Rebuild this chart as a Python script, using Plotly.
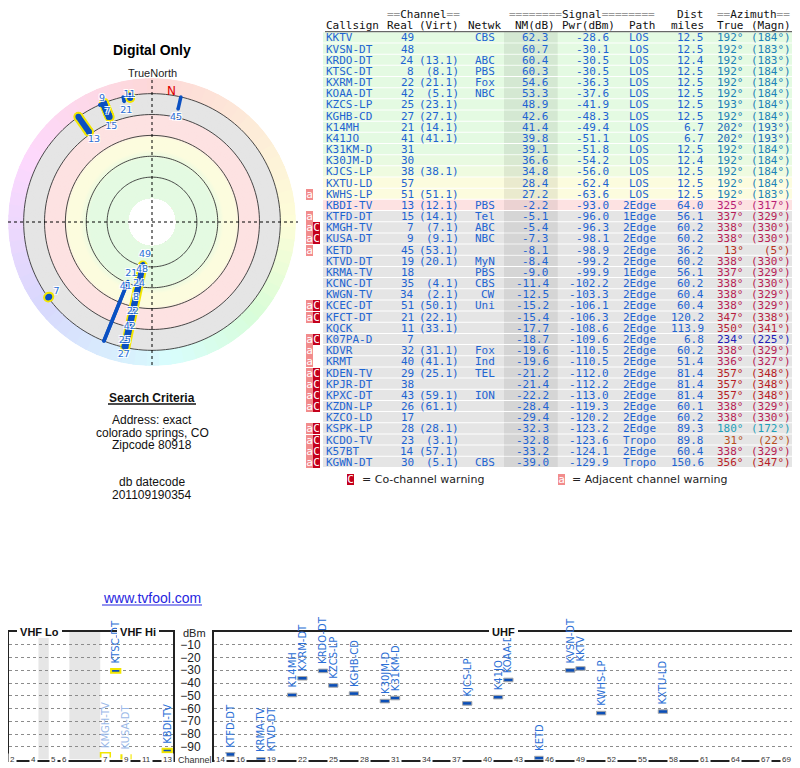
import numpy as np
import plotly.graph_objects as go

W, H = 800, 768
OFF = 8  # the page shows the figure 8 px in from the top-left corner
SANS = "Liberation Sans, Arial, sans-serif"
MONO = "DejaVu Sans Mono, monospace"
VERA = "DejaVu Sans, Verdana, sans-serif"

# ---- station list (table order) ----
callsigns = ["KKTV", "KVSN-DT", "KRDO-DT", "KTSC-DT", "KXRM-DT", "KOAA-DT", "KZCS-LP",
             "KGHB-CD", "K14MH", "K41JO", "K31KM-D", "K30JM-D", "KJCS-LP", "KXTU-LD",
             "KWHS-LP", "KBDI-TV", "KTFD-DT", "KMGH-TV", "KUSA-DT", "KETD", "KTVD-DT",
             "KRMA-TV", "KCNC-DT", "KWGN-TV", "KCEC-DT", "KFCT-DT", "KQCK", "K07PA-D",
             "KDVR", "KRMT", "KDEN-TV", "KPJR-DT", "KPXC-DT", "KZDN-LP", "KZCO-LD",
             "KSPK-LP", "KCDO-TV", "K57BT", "KGWN-DT"]
real_ch = [49, 48, 24, 8, 22, 42, 25, 27, 21, 41, 31, 30, 38, 57, 51, 13, 15, 7, 9, 45,
           19, 18, 35, 34, 51, 21, 11, 7, 32, 40, 29, 38, 43, 26, 17, 28, 23, 14, 30]
virt_ch = ["", "", "13.1", "8.1", "21.1", "5.1", "23.1", "27.1", "14.1", "41.1",
           "", "", "38.1", "", "51.1", "12.1", "14.1", "7.1", "9.1", "53.1",
           "20.1", "", "4.1", "2.1", "50.1", "22.1", "33.1", "", "31.1", "41.1",
           "25.1", "", "59.1", "61.1", "", "28.1", "3.1", "57.1", "5.1"]
networks = ["CBS", "", "ABC", "PBS", "Fox", "NBC", "", "", "", "",
            "", "", "", "", "", "PBS", "Tel", "ABC", "NBC", "",
            "MyN", "PBS", "CBS", "CW", "Uni", "", "", "", "Fox", "Ind",
            "TEL", "", "ION", "", "", "", "", "", "CBS"]
nm_db = [62.3, 60.7, 60.4, 60.3, 54.6, 53.3, 48.9, 42.6, 41.4, 39.8,
         39.1, 36.6, 34.8, 28.4, 27.2, -2.2, -5.1, -5.4, -7.3, -8.1,
         -8.4, -9.0, -11.4, -12.5, -15.2, -15.4, -17.7, -18.7, -19.6, -19.6,
         -21.2, -21.4, -22.2, -28.4, -29.4, -32.3, -32.8, -33.2, -39.0]
pwr_dbm = [-28.6, -30.1, -30.5, -30.5, -36.3, -37.6, -41.9, -48.3, -49.4, -51.1,
           -51.8, -54.2, -56.0, -62.4, -63.6, -93.0, -96.0, -96.3, -98.1, -98.9,
           -99.2, -99.9, -102.2, -103.3, -106.1, -106.3, -108.6, -109.6, -110.5, -110.5,
           -112.0, -112.2, -113.0, -119.3, -120.2, -123.2, -123.6, -124.1, -129.9]
paths = (["LOS"] * 15
         + ["2Edge", "1Edge", "2Edge", "2Edge", "2Edge"]
         + ["2Edge", "1Edge", "2Edge", "2Edge", "2Edge", "2Edge", "2Edge", "2Edge", "2Edge", "2Edge"]
         + ["2Edge"] * 6 + ["Tropo", "2Edge", "Tropo"])
dist_mi = [12.5, 12.5, 12.4, 12.5, 12.5, 12.5, 12.5, 12.5, 6.7, 6.7,
           12.5, 12.4, 12.5, 12.5, 12.5, 64.0, 56.1, 60.2, 60.2, 36.2,
           60.2, 56.1, 60.2, 60.4, 60.4, 120.2, 113.9, 6.8, 60.2, 51.4,
           81.4, 81.4, 81.4, 60.1, 60.2, 89.3, 89.8, 60.4, 150.6]
az_true = [192, 192, 192, 192, 192, 192, 193, 192, 202, 202,
           192, 192, 192, 192, 192, 325, 337, 338, 338, 13,
           338, 337, 338, 338, 338, 347, 350, 234, 338, 336,
           357, 357, 357, 338, 338, 180, 31, 338, 356]
az_magn = [184, 183, 183, 184, 184, 184, 184, 184, 193, 193,
           184, 184, 184, 184, 183, 317, 329, 330, 330, 5,
           330, 329, 330, 329, 329, 338, 341, 225, 329, 327,
           348, 348, 348, 329, 330, 172, 22, 329, 347]
warnings = ["", "", "", "", "", "", "", "", "", "", "", "", "", "", "a",
            "", "a", "aC", "aC", "a", "", "", "", "", "aC", "aC", "", "aC", "a", "a",
            "aC", "aC", "aC", "aC", "", "aC", "aC", "aC", "aC"]

# ---- axis tick labels ----
vhf_ruler = [2, 4, 5, 6, 7, 9, 11, 13]
uhf_ruler = [14, 16, 19, 22, 25, 28, 31, 34, 37, 40, 43, 46, 49, 52, 55, 58, 61, 64, 67, 69]
dbm_ticks = [-10, -20, -30, -40, -50, -60, -70, -80, -90]
polar_rings = [60, 40, 20, 0, -20]

FLOOR = -20          # NM level of the outer gray ring
NM_IN, NM_OUT = 80, -35
n = len(callsigns)


def px(x):
    return min(1.0, max(0.0, (x - OFF) / W))


def py(y):
    return min(1.0, max(0.0, 1 - (y - OFF) / H))


GREEN = (228, 250, 226)
YELLOW = (252, 252, 222)
PINK = (253, 226, 226)
GRAY = (229, 229, 229)
table_anchors = [(-60, GRAY), (-3.0, GRAY), (-2.4, PINK), (19, PINK), (21, YELLOW),
                 (31, YELLOW), (38, GREEN), (99, GREEN)]
polar_anchors = [(-60, GRAY), (-0.5, GRAY), (0.5, PINK), (19, PINK), (22, YELLOW),
                 (34, YELLOW), (43, GREEN), (99, GREEN)]


def blend(anchors, v, k=1.0):
    xs = [a[0] for a in anchors]
    cs = np.array([a[1] for a in anchors], float)
    rgb = [np.interp(v, xs, cs[:, j]) * k for j in range(3)]
    return "rgb(%d,%d,%d)" % tuple(int(round(c)) for c in rgb)


def az_hue(a):
    return float(np.interp(a % 360, [0, 90, 180, 270, 360], [0, 60, 190, 275, 360]))


def vhf_slot(ch):
    if ch <= 4:
        return ch - 2
    if ch <= 6:
        return ch - 1
    return ch + 2


annotations = []
shapes = []


def ann(x, y, text, size=11, color="#111", family=SANS, xanchor="center", yanchor="middle", **kw):
    d = dict(x=(x - OFF) / W, y=1 - (y - OFF) / H, xref="paper", yref="paper", text=text,
             showarrow=False, xanchor=xanchor, yanchor=yanchor, borderpad=0, borderwidth=0,
             font=dict(size=size, color=color, family=family))
    d.update(kw)
    annotations.append(d)


def rect(x0, y0, x1, y1, color, layer="below"):
    shapes.append(dict(type="rect", xref="paper", yref="paper", x0=px(x0), x1=px(x1),
                       y0=py(y1), y1=py(y0), fillcolor=color, line=dict(width=0), layer=layer))


def hline(x0, x1, y, color="#333", width=1, dash="solid", layer="above"):
    shapes.append(dict(type="line", xref="paper", yref="paper", x0=px(x0), x1=px(x1),
                       y0=py(y), y1=py(y), line=dict(color=color, width=width, dash=dash), layer=layer))


def vline(x, y0, y1, color="#333", width=1, dash="solid", layer="above"):
    shapes.append(dict(type="line", xref="paper", yref="paper", x0=px(x), x1=px(x),
                       y0=py(y0), y1=py(y1), line=dict(color=color, width=width, dash=dash), layer=layer))


fig = go.Figure()

# ================= table =================
BLUE_TXT = "#1e64d2"
G = '<span style="color:#9a9a9a">%s</span>'
ann(423, 14.5, G % "==" + "Channel" + G % "==", family=MONO)
ann(581.5, 14.5, G % "========" + "Signal" + G % "========", family=MONO)
ann(703.5, 14.5, "Dist", family=MONO, xanchor="right")
ann(753.5, 14.5, G % "==" + "Azimuth" + G % "==", family=MONO)
for txt, x, xa in [("Callsign", 326, "left"), ("Real", 413.5, "right"), ("(Virt)", 459.5, "right"),
                   ("Netwk", 501, "right"), ("NM(dB)", 535, "center"), ("Pwr(dBm)", 588.5, "center"),
                   ("Path", 642, "center"), ("miles", 703.5, "right"), ("True", 743.5, "right"),
                   ("(Magn)", 790.5, "right")]:
    ann(x, 25.5, txt, family=MONO, xanchor=xa)
hline(325, 792.7, 31.7, color="#444", width=1)

ROW0, PITCH = 37.9, 11.17
az_col = ["hsl(%d,72%%,42%%)" % az_hue(a) for a in az_true]
columns = [
    (callsigns, 326, "left"),
    ([str(c) for c in real_ch], 413.5, "right"),
    (["(%s)" % v if v else "" for v in virt_ch], 459.5, "right"),
    (networks, 494.5, "right"),
    (["%.1f" % v for v in nm_db], 548.5, "right"),
    (["%.1f" % v for v in pwr_dbm], 608.5, "right"),
    (paths, 639, "center"),
    (["%.1f" % v for v in dist_mi], 703.5, "right"),
    (["%d°" % a for a in az_true], 743.5, "right"),
    (["(%d°)" % a for a in az_magn], 790.5, "right"),
]
for i in range(n):
    yc = ROW0 + i * PITCH
    top = yc - PITCH / 2
    bot = top + PITCH - 1
    rect(323, top, 792.7, bot, blend(table_anchors, nm_db[i]))
    rect(504, top, 557.7, bot, blend(table_anchors, nm_db[i], 0.93))
    for ci, (vals, x, xa) in enumerate(columns):
        if not vals[i]:
            continue
        col = az_col[i] if ci >= 8 else BLUE_TXT
        ann(x, yc, vals[i], family=MONO, xanchor=xa, color=col)
    if "a" in warnings[i]:
        ann(309.6, yc, "a", family=MONO, color="white", bgcolor="#f28c8c", width=7, height=11)
    if "C" in warnings[i]:
        ann(316.7, yc, "C", family=MONO, color="white", bgcolor="#c4001c", width=7, height=11)

ann(350, 479, "C", family=MONO, color="white", bgcolor="#c4001c", width=7, height=11)
ann(361.5, 479, "= Co-channel warning", family=VERA, xanchor="left", color="#222")
ann(561, 479, "a", family=MONO, color="white", bgcolor="#f28c8c", width=7, height=11)
ann(571.5, 479, "= Adjacent channel warning", family=VERA, xanchor="left", color="#222")

# ================= polar radar =================
CX, CY, RPX = 152, 222, 144.0
HOLE_PX = 24
polar_domain = dict(x=[px(CX - RPX), px(CX + RPX)], y=[py(CY + RPX), py(CY - RPX)])

levels = np.arange(FLOOR, NM_IN, 1.0)
b_th, b_base, b_r, b_col = [], [], [], []
for L in levels:
    c = blend(polar_anchors, L + 0.5)
    for th in (90, 270):
        b_th.append(th)
        b_base.append(L)
        b_r.append(NM_IN - L)
        b_col.append(c)
fig.add_trace(go.Barpolar(theta=b_th, base=b_base, r=b_r, width=[180] * len(b_th),
                          marker=dict(color=b_col, line=dict(width=0)), hoverinfo="skip"))

ring_th = list(range(0, 360, 5))
fig.add_trace(go.Barpolar(theta=ring_th, base=[NM_OUT] * len(ring_th),
                          r=[FLOOR - NM_OUT] * len(ring_th), width=[5.8] * len(ring_th),
                          marker=dict(color=["hsl(%d,90%%,92%%)" % az_hue(a) for a in ring_th],
                                      line=dict(width=0)),
                          hoverinfo="skip"))

circ_r, circ_t = [], []
for lv in polar_rings:
    t = list(np.linspace(0, 360, 181))
    circ_r += [lv] * len(t) + [None]
    circ_t += t + [None]
fig.add_trace(go.Scatterpolar(r=circ_r, theta=circ_t, mode="lines",
                              line=dict(color="#333", width=0.9), hoverinfo="skip"))

drawn = [i for i in range(n) if nm_db[i] >= FLOOR]
vhf_drawn = [i for i in drawn if real_ch[i] <= 13]
uhf_drawn = [i for i in drawn if real_ch[i] > 13]


def segs(idx):
    r, t = [], []
    for i in idx:
        r += [nm_db[i], FLOOR, None]
        t += [az_true[i], az_true[i], None]
    return r, t


LINE_BLUE = "#0b50c2"
for idx, color, wdt in [(vhf_drawn, "#f2e600", 10), (vhf_drawn, LINE_BLUE, 6), (uhf_drawn, LINE_BLUE, 3.5)]:
    r, t = segs(idx)
    fig.add_trace(go.Scatterpolar(r=r, theta=t, mode="lines+markers",
                                  line=dict(color=color, width=wdt),
                                  marker=dict(color=color, size=wdt, line=dict(width=0)),
                                  hoverinfo="skip"))

# labels spread outward along each direction
by_az = sorted(drawn, key=lambda i: az_true[i])
groups, cur = [], [by_az[0]]
for i in by_az[1:]:
    if az_true[i] - az_true[cur[-1]] <= 3:
        cur.append(i)
    else:
        groups.append(cur)
        cur = [i]
groups.append(cur)
LABEL_IN, LABEL_GAP = 8.5, 14.0
lab_r, lab_t, lab_s = [], [], []
for grp in groups:
    prev = None
    for i in sorted(grp, key=lambda k: -nm_db[k]):
        v = nm_db[i] + LABEL_IN
        if prev is not None:
            v = min(v, prev - LABEL_GAP)
        prev = v
        if v >= -33:
            lab_r.append(v)
            lab_t.append(az_true[i])
            lab_s.append(str(real_ch[i]))
fig.add_trace(go.Scatterpolar(r=lab_r, theta=lab_t, text=lab_s, mode="text",
                              textfont=dict(family=VERA, size=9.5, color="#2a6fd8",
                                            shadow="1px 1px 0 #fff, -1px -1px 0 #fff, 1px -1px 0 #fff, -1px 1px 0 #fff"),
                              hoverinfo="skip"))

declination = float(np.mean([(t - m) % 360 for t, m in zip(az_true, az_magn)]))
fig.add_trace(go.Scatterpolar(r=[-22.5], theta=[declination], text=["N"], mode="text",
                              textfont=dict(family=VERA, size=12, color="#e00000"),
                              hoverinfo="skip"))

hline(CX - RPX - 2, CX + RPX + 2, CY, color="#000", width=1, dash="dot")
vline(CX, 80, CY + RPX + 2, color="#000", width=1, dash="dot")

ann(CX, 50.5, "<b>Digital Only</b>", size=14, color="#000")
ann(CX, 73, "TrueNorth", size=11, color="#222")

# ================= left text block =================
ann(CX, 397.7, "<b>Search Criteria</b>", size=12, color="#111")
hline(108, 196, 404, color="#111", width=1.5)
ann(CX, 420, "Address: exact", size=12, color="#111")
ann(CX, 432.7, "colorado springs, CO", size=12, color="#111")
ann(CX, 445, "Zipcode 80918", size=12, color="#111")
ann(CX, 482.3, "db datecode", size=12, color="#111")
ann(CX, 494.5, "201109190354", size=12, color="#111")
ann(CX, 597.5, "www.tvfool.com", size=14, color="#2626e0")
hline(102, 202, 605, color="#2626e0", width=1)

# ================= channel spectrum =================
in_chart = [i for i in range(n) if pwr_dbm[i] >= -100]
vhf_idx = [i for i in in_chart if real_ch[i] <= 13]
uhf_idx = [i for i in in_chart if real_ch[i] > 13]
BAR_H = 2.8


def bar_trace(idx, xfun, xa, ya, vhf):
    co = ["C" in warnings[i] for i in idx]
    return go.Bar(x=[xfun(real_ch[i]) for i in idx], y=[BAR_H] * len(idx),
                  base=[pwr_dbm[i] - BAR_H / 2 for i in idx], width=0.9,
                  marker=dict(color=["#6f97d8" if c else "#0b4fb8" for c in co],
                              line=dict(color="#f2e600" if vhf else "#a8a8a8", width=2 if vhf else 1)),
                  xaxis=xa, yaxis=ya, hoverinfo="skip")


fig.add_trace(bar_trace(vhf_idx, vhf_slot, "x", "y", True))
fig.add_trace(bar_trace(uhf_idx, lambda c: c, "x2", "y2", False))

for idx, xfun, xr, yr in [(vhf_idx, vhf_slot, "x", "y"), (uhf_idx, lambda c: c, "x2", "y2")]:
    for i in idx:
        col = "#9bb9e8" if "C" in warnings[i] else "#2c6fd6"
        annotations.append(dict(x=xfun(real_ch[i]), y=pwr_dbm[i], xref=xr, yref=yr,
                                text=callsigns[i], textangle=-90, showarrow=False,
                                xanchor="center", yanchor="bottom", yshift=5,
                                font=dict(family=VERA, size=10, color=col)))

for chs, xfun, xr, yr in [(vhf_ruler, vhf_slot, "x", "y"), (uhf_ruler, lambda c: c, "x2", "y2")]:
    for c in chs:
        annotations.append(dict(x=xfun(c), y=-100, xref=xr, yref=yr, text=str(c), showarrow=False,
                                xanchor="center", yanchor="middle", bgcolor="white", borderpad=1,
                                font=dict(family=SANS, size=8, color="#333")))

used = {vhf_slot(c) for c in range(2, 14)}
gaps = [s for s in range(0, vhf_slot(13)) if s not in used]
runs = []
for s in gaps:
    if runs and s == runs[-1][1] + 1:
        runs[-1][1] = s
    else:
        runs.append([s, s])
for a, b in runs:
    shapes.append(dict(type="rect", xref="x", yref="y", x0=a - 0.5, x1=b + 0.5, y0=-100, y1=0,
                       fillcolor="#e6e6e6", line=dict(width=0), layer="below"))

ann(39, 632, "<b>\u00a0VHF Lo\u00a0</b>", size=11, color="#111", bgcolor="white")
ann(138, 632, "<b>\u00a0VHF Hi\u00a0</b>", size=11, color="#111", bgcolor="white")
ann(503, 632, "<b>\u00a0UHF\u00a0</b>", size=11, color="#111", bgcolor="white")
ann(194, 632.5, "dBm", size=11, color="#222")
ann(194.5, 759.5, "Channel", size=9, color="#333", bgcolor="white")

PX_PER_CH = 10.3
VHF_L, VHF_R, CH2_X = 8.5, 173.3, 12.7
y_dom = [py(759.5), py(632)]
frame = dict(showline=True, mirror=True, linewidth=2, linecolor="#222", zeroline=False,
             fixedrange=True)
fig.update_layout(
    width=W, height=H, margin=dict(l=0, r=0, t=0, b=0),
    paper_bgcolor="white", plot_bgcolor="rgba(0,0,0,0)",
    showlegend=False, barmode="overlay",
    font=dict(family=SANS, color="#111"),
    polar=dict(domain=polar_domain, hole=HOLE_PX / RPX, bgcolor="rgba(0,0,0,0)",
               radialaxis=dict(range=[NM_IN, NM_OUT], visible=False),
               angularaxis=dict(rotation=90, direction="clockwise", visible=False)),
    xaxis=dict(domain=[px(VHF_L), px(VHF_R)],
               range=[(VHF_L - CH2_X) / PX_PER_CH, (VHF_R - CH2_X) / PX_PER_CH],
               showgrid=False, showticklabels=False, ticks="", anchor="y", **frame),
    yaxis=dict(domain=y_dom, range=[-100, 0], anchor="x", tickvals=dbm_ticks,
               showticklabels=False, ticks="", showgrid=True, gridcolor="#8c8c8c",
               griddash="dot", gridwidth=1, **frame),
    xaxis2=dict(domain=[px(214), px(792.7)],
                range=[14 - 6 / PX_PER_CH, 14 + 572.7 / PX_PER_CH],
                showgrid=False, showticklabels=False, ticks="", anchor="y2", **frame),
    yaxis2=dict(domain=y_dom, range=[-100, 0], anchor="x2", tickvals=dbm_ticks,
                showticklabels=True, ticks="outside", ticklen=9, tickcolor="rgba(0,0,0,0)",
                tickfont=dict(size=12, color="#222", family=SANS),
                showgrid=True, gridcolor="#8c8c8c", griddash="dot", gridwidth=1, **frame),
    annotations=annotations,
    shapes=shapes,
)

fig.write_html("out.html")
